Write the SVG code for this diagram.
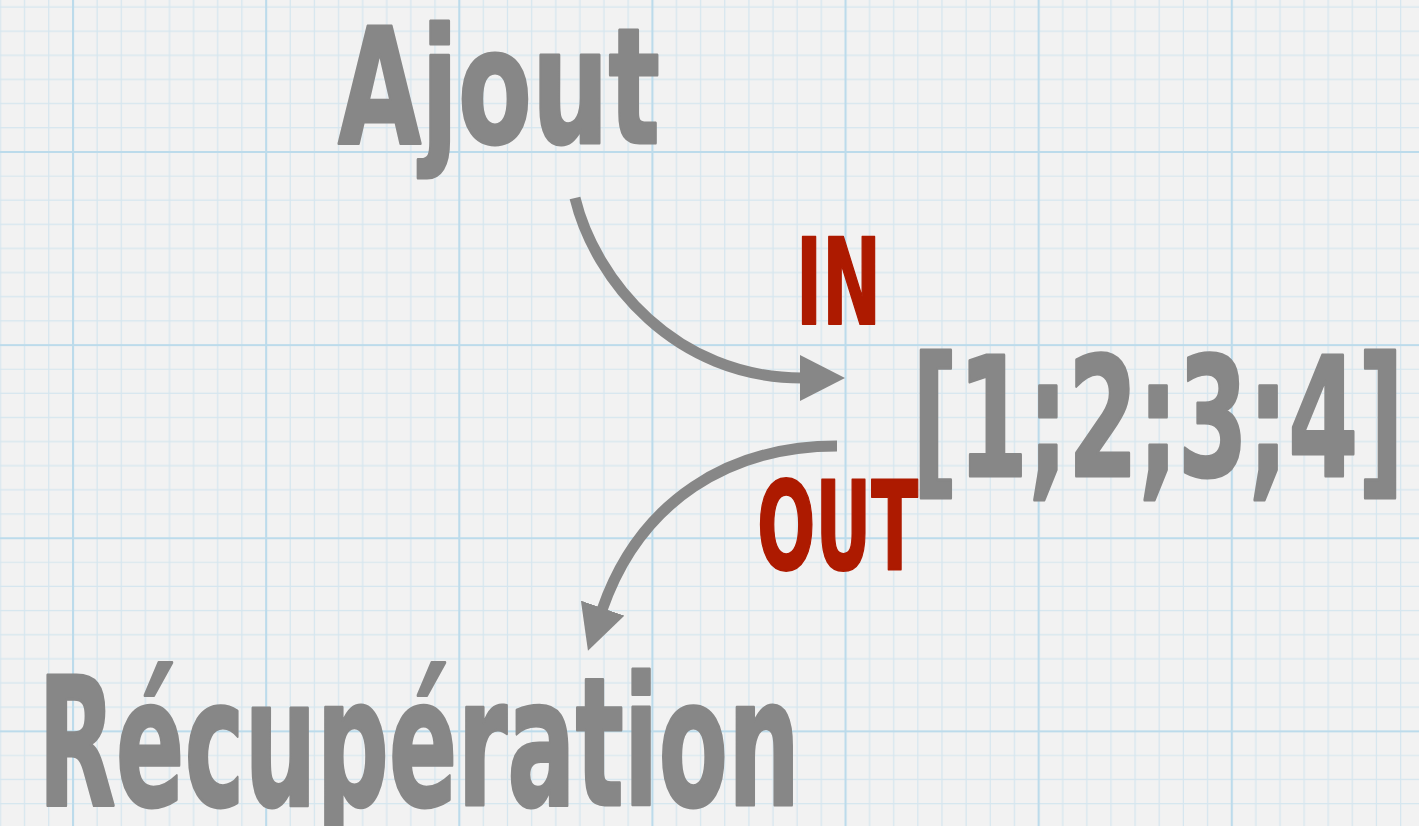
<svg xmlns="http://www.w3.org/2000/svg" width="1419" height="826" viewBox="0 0 1419 826">
  <style>
    .gray { fill: #878787; stroke: #878787; stroke-width: 3; stroke-linejoin: round; font-family: "DejaVu Sans", "Liberation Sans", sans-serif; font-weight: bold; }
    .red { fill: #ad1a00; stroke: #ad1a00; stroke-width: 2; stroke-linejoin: round; font-family: "DejaVu Sans", "Liberation Sans", sans-serif; font-weight: bold; }
    .conn { fill: none; stroke: #878787; stroke-width: 11; }
    .minor { stroke: #d5e6ef; stroke-width: 1.2; }
    .major { stroke: #bcdbeb; stroke-width: 2.2; }
  </style>
  <defs>
    <pattern id="grid" patternUnits="userSpaceOnUse" x="72" y="151" width="193.125" height="193.125">
      <rect width="193.125" height="193.125" fill="#f2f2f2"/>
      <g class="minor">
        <line x1="25.125" y1="0" x2="25.125" y2="193.125"/>
        <line x1="49.25" y1="0" x2="49.25" y2="193.125"/>
        <line x1="73.375" y1="0" x2="73.375" y2="193.125"/>
        <line x1="97.5" y1="0" x2="97.5" y2="193.125"/>
        <line x1="121.625" y1="0" x2="121.625" y2="193.125"/>
        <line x1="145.75" y1="0" x2="145.75" y2="193.125"/>
        <line x1="169.875" y1="0" x2="169.875" y2="193.125"/>
        <line y1="25.125" x1="0" y2="25.125" x2="193.125"/>
        <line y1="49.25" x1="0" y2="49.25" x2="193.125"/>
        <line y1="73.375" x1="0" y2="73.375" x2="193.125"/>
        <line y1="97.5" x1="0" y2="97.5" x2="193.125"/>
        <line y1="121.625" x1="0" y2="121.625" x2="193.125"/>
        <line y1="145.75" x1="0" y2="145.75" x2="193.125"/>
        <line y1="169.875" x1="0" y2="169.875" x2="193.125"/>
      </g>
      <g class="major">
        <line x1="1" y1="0" x2="1" y2="193.125"/>
        <line y1="1" x1="0" y2="1" x2="193.125"/>
      </g>
    </pattern>
    <marker id="head" markerUnits="userSpaceOnUse" viewBox="0 0 46 46" markerWidth="46" markerHeight="46" refX="2" refY="23" orient="auto">
      <path d="M0,0 L45,23 L0,46 Z" fill="#878787"/>
    </marker>
  </defs>

  <rect id="paper" x="0" y="0" width="1419" height="826" fill="url(#grid)"/>

  <g id="connectors">
    <path id="in-arrow" class="conn" d="M575,198 C595,280 675,378 802,378" marker-end="url(#head)"/>
    <path id="out-arrow" class="conn" d="M837,446 C730,446 640,500 602,610" marker-end="url(#head)"/>
  </g>

  <g id="node-ajout">
    <text class="gray" x="338" y="143" font-size="160" textLength="322" lengthAdjust="spacingAndGlyphs">Ajout</text>
  </g>
  <g id="node-list">
    <text class="gray" x="912" y="476" font-size="165" textLength="492" lengthAdjust="spacingAndGlyphs">[1;2;3;4]</text>
  </g>
  <g id="node-recuperation">
    <text class="gray" x="38" y="805" font-size="178" textLength="762" lengthAdjust="spacingAndGlyphs">Récupération</text>
  </g>
  <g id="label-in">
    <text class="red" x="796" y="324" font-size="120" textLength="85" lengthAdjust="spacingAndGlyphs">IN</text>
  </g>
  <g id="label-out">
    <text class="red" x="757" y="569" font-size="123" textLength="161" lengthAdjust="spacingAndGlyphs">OUT</text>
  </g>
</svg>
